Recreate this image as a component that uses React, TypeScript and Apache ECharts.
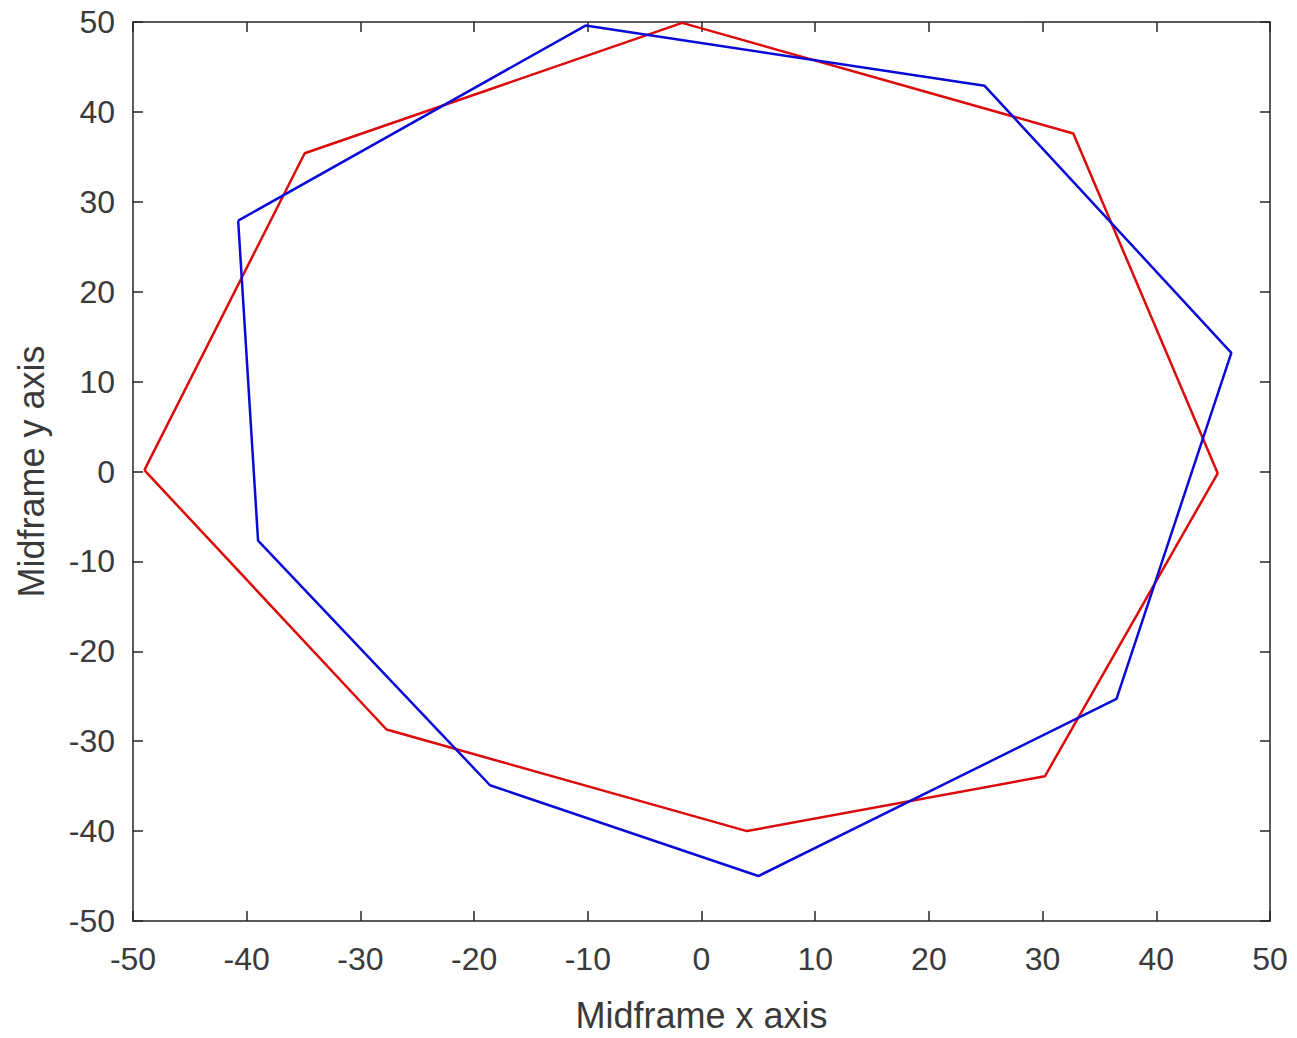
import React, { useEffect, useRef } from "react";
import * as echarts from "echarts";

const redX = [-49.0, -34.9, -1.7, 32.7, 45.4, 30.2, 4.0, -27.7, -49.0];
const redY = [0.15, 35.4, 49.9, 37.6, -0.2, -33.9, -40.0, -28.7, 0.15];
const blueX = [-40.75, -10.2, 24.9, 46.6, 36.5, 5.0, -18.6, -39.0, -40.75];
const blueY = [27.9, 49.6, 42.9, 13.2, -25.3, -45.0, -34.9, -7.7, 27.9];
const xTitle = "Midframe x axis";
const yTitle = "Midframe y axis";

const FONT = "'Liberation Sans', Arial, Helvetica, sans-serif";
const AXIS_COLOR = "#262626";
const TEXT_COLOR = "#3a3a3a";

export default function App() {
  const ref = useRef<HTMLDivElement>(null);
  useEffect(() => {
    document.body.style.margin = "0";
    if (!ref.current) return;
    const chart = echarts.init(ref.current, null, { renderer: "svg" });
    const pair = (xs: number[], ys: number[]) => xs.map((x, i) => [x, ys[i]]);
    const baseAxis = {
      type: "value" as const,
      min: -50,
      max: 50,
      interval: 10,
      splitLine: { show: false },
      axisLine: { show: true, onZero: false, lineStyle: { color: AXIS_COLOR, width: 1.5 } },
      axisTick: { show: true, inside: true, length: 10, lineStyle: { color: AXIS_COLOR, width: 1.5 } },
    };
    chart.setOption({
      animation: false,
      backgroundColor: "#ffffff",
      textStyle: { fontFamily: FONT },
      grid: { left: 133, right: 27, top: 22, bottom: 116, containLabel: false },
      xAxis: [
        {
          ...baseAxis,
          position: "bottom",
          name: xTitle,
          nameLocation: "middle",
          nameGap: 76,
          nameTextStyle: { fontSize: 36, color: TEXT_COLOR, fontFamily: FONT },
          axisLabel: { show: true, fontSize: 32, color: TEXT_COLOR, margin: 22, fontFamily: FONT },
        },
        {
          ...baseAxis,
          position: "top",
          axisLabel: { show: false },
        },
      ],
      yAxis: [
        {
          ...baseAxis,
          position: "left",
          name: yTitle,
          nameLocation: "middle",
          nameGap: 84,
          nameTextStyle: { fontSize: 36, color: TEXT_COLOR, fontFamily: FONT },
          axisLabel: { show: true, fontSize: 32, color: TEXT_COLOR, margin: 18, fontFamily: FONT },
        },
        {
          ...baseAxis,
          position: "right",
          axisLabel: { show: false },
        },
      ],
      series: [
        {
          type: "line",
          data: pair(redX, redY),
          showSymbol: false,
          lineStyle: { color: "#dc0a0a", width: 2.5 },
          itemStyle: { color: "#dc0a0a" },
          xAxisIndex: 0,
          yAxisIndex: 0,
        },
        {
          type: "line",
          data: pair(blueX, blueY),
          showSymbol: false,
          lineStyle: { color: "#0a0ad8", width: 2.5 },
          itemStyle: { color: "#0a0ad8" },
          xAxisIndex: 0,
          yAxisIndex: 0,
        },
      ],
    });
    return () => chart.dispose();
  }, []);
  return <div ref={ref} style={{ width: 1297, height: 1038 }} />;
}
